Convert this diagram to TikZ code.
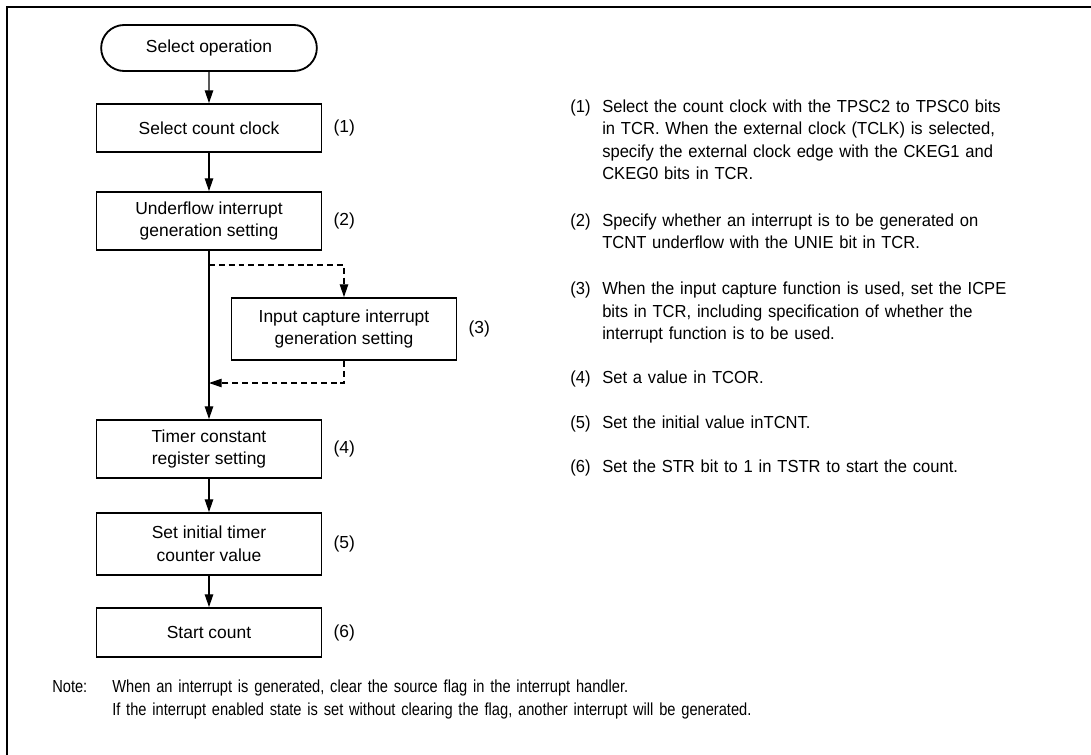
\documentclass[tikz,border=0pt]{standalone}
\usepackage{fontspec}
\setmainfont{Liberation Sans}
\setsansfont{Liberation Sans}
\newfontfamily\descfont[FakeStretch=0.95]{Liberation Sans}
\newfontfamily\notefont[FakeStretch=0.84]{Liberation Sans}
\usetikzlibrary{arrows.meta,positioning,shapes.misc}

\begin{document}
\begin{tikzpicture}[
    x=0.025cm, y=-0.025cm,
    font=\sffamily\fontsize{12.4}{16}\selectfont,
    stepbox/.style={draw, line width=1.3pt, minimum width=5.625cm, align=center, inner sep=2pt},
    flow/.style={line width=0.8pt, -{Triangle[length=9pt,width=6pt]}},
    dashflow/.style={flow, dash pattern=on 4.2pt off 2.8pt},
    numlbl/.style={inner sep=0pt},
    desc/.style={align=left, anchor=base west, inner sep=0pt, text width=12cm, font=\descfont\fontsize{12.4}{16}\selectfont},
    notetxt/.style={desc, text width=26cm, font=\notefont\fontsize{12.4}{16}\selectfont}
]

  % Fixed page size and outer frame
  \useasboundingbox (0,0) rectangle (1091,755);
  \draw[line width=1.6pt] (1091,7) -- (7,7) -- (7,755);

  % =========================================================================
  % FLOWCHART (LEFT)
  % =========================================================================
  \node[draw, line width=1.3pt, rounded rectangle, minimum width=5.625cm, minimum height=1.15cm] (start) at (209,48) {Select operation};

  \node[stepbox, minimum height=1.2cm] (clk) at (209,128) {Select count clock};
  \node[stepbox, minimum height=1.45cm] (unf) at (209,221) {Underflow interrupt\\generation setting};
  \node[stepbox, minimum height=1.55cm] (icp) at (344,329) {Input capture interrupt\\generation setting};
  \node[stepbox, minimum height=1.45cm] (tcor) at (209,449) {Timer constant\\register setting};
  \node[stepbox, minimum height=1.55cm] (tcnt) at (209,544) {Set initial timer\\counter value};
  \node[stepbox, minimum height=1.225cm] (run) at (209,632.5) {Start count};

  % step numbers next to the boxes
  \node[numlbl, right=0.27cm of clk] (n1) {(1)};
  \node[numlbl, right=0.27cm of unf] (n2) {(2)};
  \node[numlbl, right=0.27cm of icp] (n3) {(3)};
  \node[numlbl, right=0.27cm of tcor] (n4) {(4)};
  \node[numlbl, right=0.27cm of tcnt] (n5) {(5)};
  \node[numlbl, right=0.27cm of run] (n6) {(6)};

  % connectors
  \coordinate (split) at (209,265);
  \coordinate (merge) at (209,383);
  \draw[flow] (start) -- (clk);
  \draw[flow] (clk) -- (unf);
  \draw[flow] (unf) -- (tcor);
  \draw[dashflow] (split) -| (icp.north);
  \draw[dashflow] (icp.south) |- (merge);
  \draw[flow] (tcor) -- (tcnt);
  \draw[flow] (tcnt) -- (run);

  % =========================================================================
  % EXPLANATIONS (RIGHT)
  % =========================================================================
  \node[desc, text width=1cm] (d1n) at (570,112.5) {(1)};
  \node[desc] (d1) at (602,112.5) {Select the count clock with the TPSC2 to TPSC0 bits\\in TCR. When the external clock (TCLK) is selected,\\specify the external clock edge with the CKEG1 and\\CKEG0 bits in TCR.};
  \node[desc, text width=1cm] (d2n) at (570,226.5) {(2)};
  \node[desc] (d2) at (602,226.5) {Specify whether an interrupt is to be generated on\\TCNT underflow with the UNIE bit in TCR.};
  \node[desc, text width=1cm] (d3n) at (570,294.5) {(3)};
  \node[desc] (d3) at (602,294.5) {When the input capture function is used, set the ICPE\\bits in TCR, including specification of whether the\\interrupt function is to be used.};
  \node[desc, text width=1cm] (d4n) at (570,383.5) {(4)};
  \node[desc] (d4) at (602,383.5) {Set a value in TCOR.};
  \node[desc, text width=1cm] (d5n) at (570,428.5) {(5)};
  \node[desc] (d5) at (602,428.5) {Set the initial value inTCNT.};
  \node[desc, text width=1cm] (d6n) at (570,472.5) {(6)};
  \node[desc] (d6) at (602,472.5) {Set the STR bit to 1 in TSTR to start the count.};

  % =========================================================================
  % NOTE (BOTTOM)
  % =========================================================================
  \node[notetxt, text width=2cm] (noteh) at (52,692.5) {Note:};
  \node[notetxt] (note) at (112,692.5) {When an interrupt is generated, clear the source flag in the interrupt handler.\\If the interrupt enabled state is set without clearing the flag, another interrupt will be generated.};

\end{tikzpicture}
\end{document}
